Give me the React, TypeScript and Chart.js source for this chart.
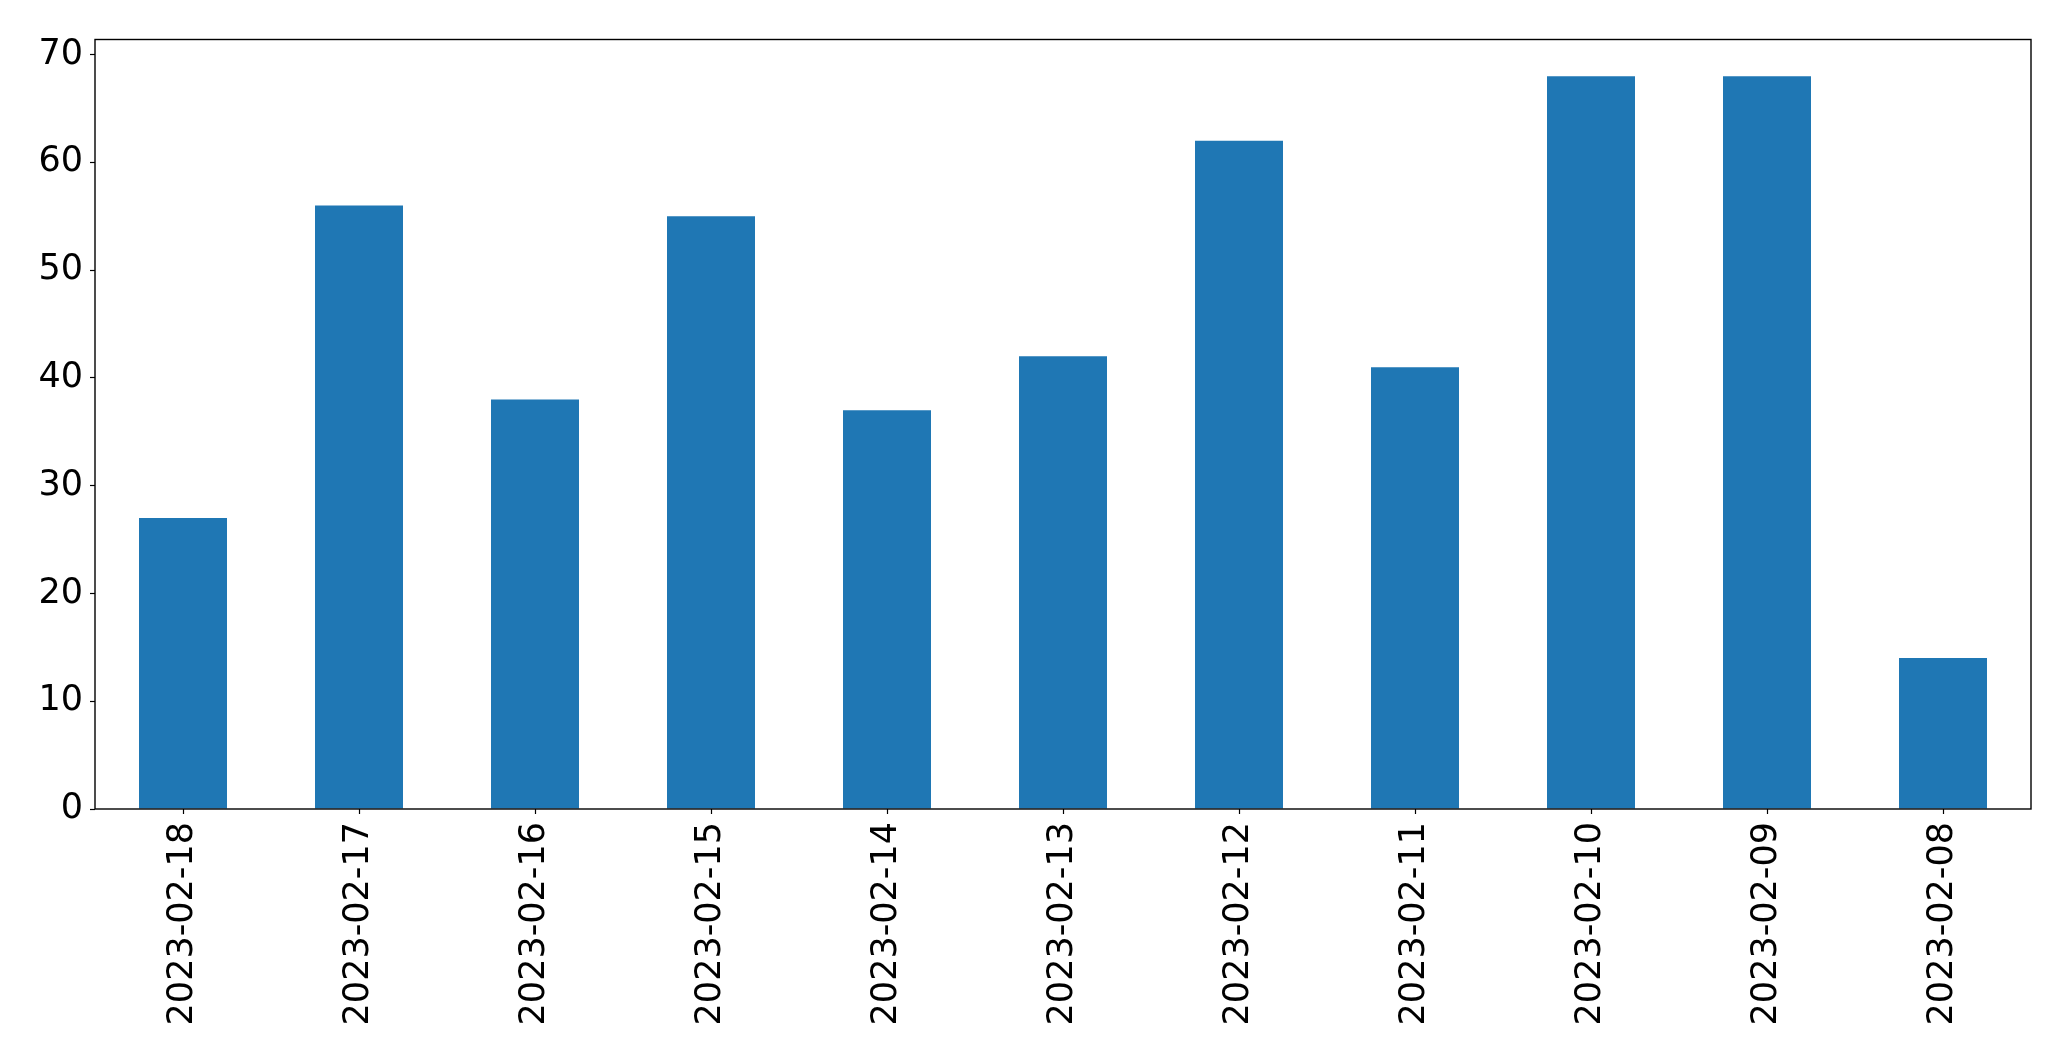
import React, { useEffect, useRef } from "react";
import { Chart, registerables } from "chart.js";

Chart.register(...registerables);

const categories: string[] = [
  "2023-02-18", "2023-02-17", "2023-02-16", "2023-02-15", "2023-02-14", "2023-02-13",
  "2023-02-12", "2023-02-11", "2023-02-10", "2023-02-09", "2023-02-08",
];
const values: number[] = [27, 56, 38, 55, 37, 42, 62, 41, 68, 68, 14];
const yTicks: number[] = [0, 10, 20, 30, 40, 50, 60, 70];
const yMax = 71.4;

const W = 2071;
const H = 1061;
const FONT = "'DejaVu Sans', sans-serif";

const frame = {
  id: "frame",
  afterDraw(chart: any) {
    const { ctx, chartArea } = chart;
    ctx.save();
    ctx.strokeStyle = "#000";
    ctx.lineWidth = 1.4;
    ctx.strokeRect(chartArea.left, chartArea.top, chartArea.right - chartArea.left, chartArea.bottom - chartArea.top);
    ctx.restore();
  },
};

export default function App() {
  const ref = useRef<HTMLCanvasElement | null>(null);
  useEffect(() => {
    if (!ref.current) return;
    const chart = new Chart(ref.current, {
      type: "bar",
      data: {
        labels: categories,
        datasets: [
          {
            data: values,
            backgroundColor: "#1f77b4",
            borderWidth: 0,
            barPercentage: 0.5,
            categoryPercentage: 1.0,
          },
        ],
      },
      options: {
        responsive: false,
        animation: false,
        devicePixelRatio: 1,
        layout: { padding: { left: 0, right: 40, top: 39.5, bottom: 0 } },
        plugins: { legend: { display: false }, tooltip: { enabled: false } },
        scales: {
          x: {
            type: "category",
            offset: true,
            border: { display: false },
            grid: { offset: false, drawOnChartArea: false, drawTicks: true, tickLength: 5, color: "#000", tickColor: "#000", tickWidth: 1.2 },
            ticks: {
              color: "#000",
              font: { family: FONT, size: 35 },
              minRotation: 90,
              maxRotation: 90,
              autoSkip: false,
              padding: 8,
            },
            afterFit: (s: any) => { s.height = H - 809; },
          },
          y: {
            type: "linear",
            min: 0,
            max: yMax,
            border: { display: false },
            grid: { drawOnChartArea: false, drawTicks: true, tickLength: 5, color: "#000", tickColor: "#000", tickWidth: 1.2 },
            ticks: {
              color: "#000",
              font: { family: FONT, size: 35 },
              stepSize: 10,
              includeBounds: false,
              padding: 7,
            },
            afterBuildTicks: (s: any) => { s.ticks = yTicks.map((v) => ({ value: v })); },
            afterFit: (s: any) => { s.width = 95; },
          },
        },
      },
      plugins: [frame],
    });
    return () => chart.destroy();
  }, []);
  return (
    <div style={{ position: "absolute", left: 0, top: 0, width: W, height: H, background: "#fff" }}>
      <canvas ref={ref} width={W} height={H} style={{ display: "block", width: W, height: H }} />
    </div>
  );
}
